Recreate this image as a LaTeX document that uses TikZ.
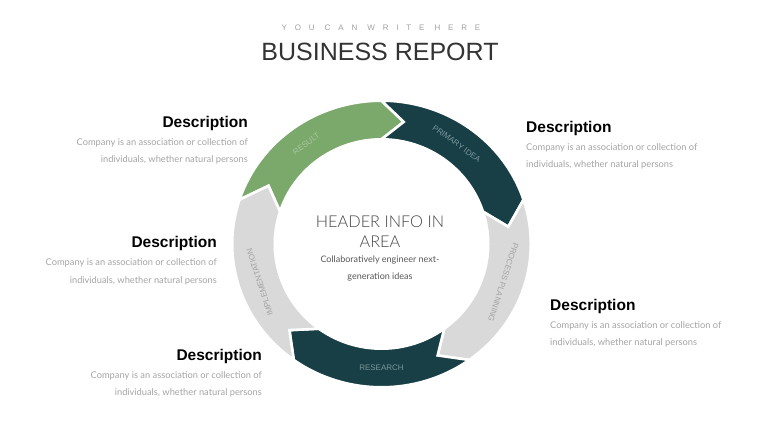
\documentclass[tikz,border=0pt]{standalone}
\usepackage{fontspec}
\setmainfont{Liberation Sans}
\newfontfamily\bodyfont{Lato}
\newfontfamily\thinfont{Lato Light}
\newfontfamily\spacedfont[LetterSpace=98]{Liberation Sans}
\definecolor{ringgreen}{HTML}{7BA86B}
\definecolor{ringdark}{HTML}{173F45}
\definecolor{ringgray}{HTML}{D9D9D9}
\definecolor{lblgreen}{HTML}{A9C99D}
\definecolor{lbldark}{HTML}{7B989C}
\definecolor{lblgray}{HTML}{A3A3A3}
\definecolor{bodygray}{HTML}{A4A4A4}
\definecolor{titlegray}{HTML}{A0A0A0}
\definecolor{titledark}{HTML}{333333}
\definecolor{centerdark}{HTML}{444444}
\definecolor{centertext}{HTML}{555555}
\begin{document}
\begin{tikzpicture}[x=1pt,y=1pt,
  desctitle/.style={font=\fontsize{15.5}{18}\selectfont\bfseries, text=black, inner sep=0},
  descbody/.style={font=\bodyfont\fontsize{9.3}{11}\selectfont, text=bodygray, inner sep=0},
  seglabel/.style={font=\fontsize{8}{9}\selectfont, inner sep=0},
  segment/.style={draw=white, line width=2.6pt, line join=miter}]
\useasboundingbox (0,0) rectangle (760,428);
% titles
\node[font=\spacedfont\fontsize{8}{9}\selectfont, text=titlegray] (sub) at (381,400) {YOU CAN WRITE HERE};
\node[font=\fontsize{25}{28}\selectfont, text=titledark] (title) at (380,376) {BUSINESS REPORT};
% ring
\begin{scope}[shift={(381.5,184)}]
\def\Rx{149.3}\def\Ry{143.3}\def\rx{106.7}\def\ry{104.7}\def\mx{128}\def\my{124}\def\d{10}
\foreach \a/\col in {162/ringgreen, 90/ringdark, 18/ringgray, -54/ringdark, -126/ringgray}{
  \pgfmathsetmacro{\b}{\a-72}
  \pgfmathsetmacro{\bt}{\a-72-\d}
  \pgfmathsetmacro{\at}{\a-\d}
  \filldraw[segment, fill=\col] ({\Rx*cos(\a)},{\Ry*sin(\a)}) arc[start angle=\a, end angle=\b, x radius=\Rx, y radius=\Ry]
    -- ({\mx*cos(\bt)},{\my*sin(\bt)}) -- ({\rx*cos(\b)},{\ry*sin(\b)}) arc[start angle=\b, end angle=\a, x radius=\rx, y radius=\ry] -- ({\mx*cos(\at)},{\my*sin(\at)}) -- cycle;
}
\node[seglabel, text=lblgreen, rotate=36] (lres) at ({\mx*cos(126)},{\my*sin(126)}) {RESULT};
\node[seglabel, text=lbldark, rotate=-36] (lpri) at ({\mx*cos(54)},{\my*sin(54)}) {PRIMARY IDEA};
\node[seglabel, text=lblgray, rotate=-108] (lpro) at ({\mx*cos(-18)},{\my*sin(-18)}) {PROCESS PLANNING};
\node[seglabel, text=lbldark, rotate=0] (lrsc) at ({\mx*cos(-90)},{\my*sin(-90)}) {RESEARCH};
\node[seglabel, text=lblgray, rotate=108] (limp) at ({\mx*cos(198)},{\my*sin(198)}) {IMPLEMENTATION};
\end{scope}
% center text
\node[font=\thinfont\fontsize{16.3}{20}\selectfont, text=centerdark, anchor=base, inner sep=0] (h1) at (380,200) {HEADER INFO IN};
\node[font=\thinfont\fontsize{16.3}{20}\selectfont, text=centerdark, anchor=base, inner sep=0] (h2) at (380,180) {AREA};
\node[font=\bodyfont\fontsize{9}{10}\selectfont, text=centertext, anchor=base, inner sep=0] (c1) at (380,165) {Collaboratively engineer next-};
\node[font=\bodyfont\fontsize{9}{10}\selectfont, text=centertext, anchor=base, inner sep=0] (c2) at (380,148) {generation ideas};
% description 1 (top left)
\node[desctitle, anchor=base east] (d1h) at (248,300) {Description};
\node[descbody, anchor=base east] (d1a) at (248,282) {Company is an association or collection of};
\node[descbody, anchor=base east] (d1b) at (248,265) {individuals, whether natural persons};
% description 2 (top right)
\node[desctitle, anchor=base west] (d2h) at (526,295) {Description};
\node[descbody, anchor=base west] (d2a) at (526,277) {Company is an association or collection of};
\node[descbody, anchor=base west] (d2b) at (526,260) {individuals, whether natural persons};
% description 3 (middle left)
\node[desctitle, anchor=base east] (d3h) at (217,180) {Description};
\node[descbody, anchor=base east] (d3a) at (217,162) {Company is an association or collection of};
\node[descbody, anchor=base east] (d3b) at (217,144) {individuals, whether natural persons};
% description 4 (middle right)
\node[desctitle, anchor=base west] (d4h) at (550,117) {Description};
\node[descbody, anchor=base west] (d4a) at (550,99) {Company is an association or collection of};
\node[descbody, anchor=base west] (d4b) at (550,82) {individuals, whether natural persons};
% description 5 (bottom left)
\node[desctitle, anchor=base east] (d5h) at (262,67) {Description};
\node[descbody, anchor=base east] (d5a) at (262,49) {Company is an association or collection of};
\node[descbody, anchor=base east] (d5b) at (262,32) {individuals, whether natural persons};
\end{tikzpicture}
\end{document}
